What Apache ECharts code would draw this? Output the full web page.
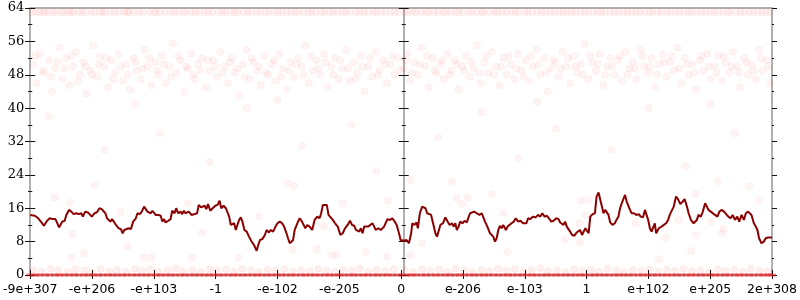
<!DOCTYPE html>
<html><head><meta charset="utf-8">
<script src="https://cdn.jsdelivr.net/npm/echarts@6/dist/echarts.min.js"></script>
<style>html,body{margin:0;padding:0;background:#fff}#c{width:800px;height:300px}</style>
</head><body><div id="c"></div>
<script>
// Tick labels
const xTickLabels = ['-9e+307','-e+206','-e+103','-1','-e-102','-e-205','0','e-206','e-103','1','e+102','e+205','2e+308'];
const yTicks = {min: 0, max: 64, step: 8};

// Dark red line (x position in tick units, y value)
const lineX = [0,0.075,0.129,0.182,0.22,0.273,0.316,0.369,0.407,0.439,0.466,0.493,0.519,0.557,0.584,0.627,0.664,0.702,0.744,0.787,0.825,0.851,0.889,0.932,0.959,0.996,1.039,1.076,1.119,1.157,1.183,1.216,1.242,1.269,1.296,1.323,1.36,1.387,1.43,1.467,1.494,1.521,1.547,1.59,1.628,1.665,1.708,1.735,1.772,1.805,1.842,1.869,1.896,1.922,1.949,1.976,2.003,2.029,
2.072,2.11,2.137,2.163,2.19,2.233,2.27,2.297,2.335,2.361,2.394,2.431,2.458,2.485,2.511,2.538,2.565,2.608,2.661,2.699,2.726,2.763,2.79,2.822,2.849,2.876,2.913,2.951,2.993,3.031,3.063,3.09,3.127,3.165,3.197,3.218,3.245,3.272,3.299,3.325,3.357,3.379,3.406,3.432,3.465,3.502,3.539,3.582,3.62,3.663,3.689,3.716,3.754,3.796,3.823,3.861,3.893,3.93,3.968,4.0,4.037,4.075,4.107,4.145,
4.171,4.198,4.225,4.252,4.278,4.305,4.332,4.359,4.396,4.428,4.45,4.482,4.519,4.546,4.562,4.6,4.643,4.68,4.707,4.734,4.76,4.798,4.825,4.857,4.894,4.932,4.975,5.017,5.055,5.092,5.135,5.173,5.205,5.242,5.269,5.296,5.323,5.349,5.376,5.403,5.43,5.467,5.499,5.537,5.564,5.59,5.628,5.671,5.724,5.778,5.821,5.858,5.896,5.928,5.965,5.992,6.046,6.088,6.126,6.163,
6.18,6.217,6.249,6.271,6.303,6.34,6.367,6.394,6.42,6.447,6.485,6.517,6.554,6.581,6.608,6.635,6.677,6.715,6.752,6.785,6.822,6.849,6.876,6.902,6.929,6.956,6.993,7.025,7.063,7.09,7.116,7.143,7.181,7.224,7.266,7.304,7.331,7.357,7.395,7.438,7.465,7.491,7.518,7.545,7.572,7.598,7.625,7.652,7.695,7.722,7.748,7.786,7.823,7.855,7.893,7.93,7.973,8.027,8.054,8.091,8.134,8.177,8.214,8.252,8.284,8.321,
8.359,8.391,8.429,8.466,8.509,8.546,8.573,8.6,8.627,8.653,8.68,8.712,8.734,8.766,8.803,8.841,8.867,8.894,8.926,8.953,8.98,9.001,9.033,9.06,9.098,9.135,9.162,9.194,9.221,9.248,9.274,9.301,9.328,9.355,9.382,9.419,9.457,9.483,9.515,9.542,9.569,9.596,9.622,9.649,9.676,9.703,9.73,9.767,9.805,9.847,9.874,9.912,9.944,9.971,9.997,10.024,10.051,10.078,10.104,10.126,10.169,10.212,10.249,10.287,10.319,10.345,10.372,10.41,
10.447,10.479,10.517,10.554,10.586,10.624,10.651,10.688,10.731,10.758,10.784,10.811,10.849,10.881,10.918,10.945,10.972,11.009,11.036,11.079,11.116,11.149,11.186,11.224,11.256,11.293,11.331,11.363,11.4,11.438,11.47,11.508,11.545,11.577,11.614,11.641,11.668,11.706,11.738,11.764,11.791,11.829,11.866,11.898,11.936,12.0];
const lineY = [14.4,14.2,13.6,12.6,11.8,13.0,13.6,13.4,13.4,12.4,11.4,11.2,12.8,13.0,14.4,15.6,15.2,14.6,14.8,14.6,14.8,14.0,15.2,15.0,14.8,14.0,14.8,15.0,16.0,15.8,16.2,14.8,13.6,14.0,12.8,13.4,12.6,12.0,11.2,11.0,10.0,10.8,10.4,11.2,11.0,12.8,13.6,14.8,14.6,15.2,16.4,16.0,15.2,15.6,14.8,15.4,15.2,14.4,
14.4,14.2,12.8,13.4,12.6,13.0,13.4,15.4,14.8,16.0,14.8,15.2,14.6,15.4,14.8,14.4,15.2,14.4,14.6,14.8,16.8,16.2,16.0,16.6,15.8,17.0,15.4,16.0,16.6,16.8,17.8,16.0,16.6,16.0,15.6,14.0,12.0,11.6,12.4,10.8,10.4,13.2,13.8,12.8,10.8,10.4,9.2,8.0,7.2,5.8,7.2,8.4,8.6,9.6,10.8,10.2,10.8,10.4,11.6,12.4,12.8,12.4,11.6,10.0,
8.8,7.6,7.4,8.4,10.8,11.0,12.8,13.6,12.8,12.6,11.2,12.0,11.6,11.8,10.8,13.2,14.0,13.6,14.8,16.8,17.0,16.8,14.4,14.8,13.2,12.4,11.6,9.6,10.0,11.2,12.0,13.0,12.0,11.8,10.8,11.2,10.4,11.2,10.0,11.6,12.0,11.6,12.0,12.4,11.6,10.8,11.2,10.8,11.6,13.4,13.2,13.6,12.8,12.0,10.0,8.4,8.2,8.4,7.6,10.0,
12.4,12.0,12.6,11.2,14.8,16.4,16.8,16.0,14.8,14.6,14.4,12.4,10.0,9.2,9.6,12.0,12.4,13.8,12.8,12.0,12.4,11.6,12.4,10.8,11.6,12.8,12.4,13.0,12.6,13.8,14.8,14.4,15.2,14.8,14.4,14.8,14.6,12.8,11.6,10.0,9.8,9.2,8.0,8.8,10.8,11.8,11.2,12.0,10.8,11.6,11.6,12.4,12.8,13.6,12.8,13.0,12.4,12.4,13.6,13.4,14.0,13.8,14.4,14.0,14.8,14.0,
14.2,13.6,12.8,13.0,13.6,13.4,12.6,13.0,12.0,12.8,11.6,12.0,10.4,9.6,9.4,10.2,9.8,10.8,9.6,10.0,11.2,10.8,10.0,14.0,14.6,14.8,18.8,19.8,19.6,16.4,14.8,15.6,15.2,14.4,12.6,12.0,12.4,13.2,14.0,16.0,17.2,16.8,19.2,17.6,17.2,15.6,14.8,14.8,14.4,14.6,14.0,13.8,15.6,15.2,13.2,11.2,10.4,10.8,12.4,10.0,11.2,11.6,12.0,12.4,13.2,14.4,14.0,16.4,
18.8,18.2,17.0,17.6,18.2,16.4,14.8,13.2,12.4,12.8,13.2,14.4,14.0,15.2,17.2,17.6,15.6,15.2,14.8,14.4,14.0,15.2,15.6,15.2,14.8,14.0,13.6,14.4,13.2,14.0,12.8,14.4,13.2,14.8,15.2,15.6,14.4,12.4,11.6,10.8,8.8,7.6,8.0,8.8,9.0,9.0];

// Faint scatter: row near the top (value 63)
const topRowX = [0.02,0.09,0.15,0.21,0.24,0.3,0.37,0.42,0.5,0.55,0.61,0.66,0.7,0.78,0.84,0.9,0.99,1.04,1.12,1.17,1.21,1.3,1.36,1.43,1.52,1.57,1.6,1.68,1.76,1.82,1.93,2.0,2.04,2.1,2.18,2.27,2.33,2.39,2.48,2.53,2.61,2.67,2.74,2.83,2.88,2.95,3.05,3.11,3.16,3.25,3.31,3.36,3.45,3.52,3.58,3.66,3.72,3.8,3.86,3.95,4.01,4.07,4.15,4.22,4.29,4.34,4.42,4.5,4.55,4.62,4.71,4.76,4.84,4.9,4.97,5.05,5.1,5.18,5.27,5.33,5.4,5.46,5.55,5.6,5.68,5.74,5.83,5.9,5.96,
6.06,6.11,6.19,6.24,6.33,6.4,6.45,6.53,6.6,6.68,6.72,6.8,6.88,6.93,7.0,7.09,7.14,7.22,7.3,7.34,7.43,7.51,7.56,7.63,7.7,7.78,7.85,7.9,8.0,8.05,8.12,8.2,8.27,8.33,8.41,8.47,8.56,8.62,8.69,8.76,8.82,8.9,8.97,9.03,9.11,9.18,9.24,9.3,9.39,9.45,9.52,9.6,9.66,9.73,9.8,9.86,9.94,10.02,10.07,10.15,10.21,10.3,10.36,10.44,10.5,10.57,10.65,10.7,10.78,10.86,10.92,11.0,11.06,11.13,11.21,11.28,11.33,11.42,11.49,11.55,11.63,11.7,11.77,11.84,11.9,11.97];

// Faint scatter: the cloud between about 42 and 56
const cloudPts = [[0.05,50.5],[0.1,46],[0.16,53],[0.22,48.5],[0.3,51.5],[0.35,44],[0.4,49.5],[0.47,54.5],[0.52,47],[0.58,52],[0.63,45.5],[0.69,50],[0.74,53.5],[0.8,48],[0.86,51],[0.91,43.5],[0.97,49],[1.02,55],[1.08,47.5],[1.13,52.5],[1.2,50],[1.26,45],[1.31,51.5],[1.37,48.5],[1.43,53],[1.5,46.5],[1.55,50.5],[1.61,44.5],[1.67,52],[1.72,49],[1.79,47],[1.85,54],[1.9,50],[1.96,45.5],[2.02,51],[2.08,48],[2.13,52.5],[2.19,46],[2.26,50],[2.31,55.5],[2.37,48.5],[2.43,51.5],[2.49,44],[2.55,49.5],[2.6,53],[2.66,47],[2.72,50.5],[2.78,52],[2.84,45],[2.9,49],[2.96,51.5],[3.02,47.5],[3.08,53.5],[3.14,50],[3.2,46],[3.26,52],[3.31,48.5],[3.38,43],[3.44,50.5],[3.5,54],[3.55,47],[3.61,51],[3.67,49],[3.73,45.5],[3.79,52.5],[3.85,48],[3.91,50.5],[3.97,46.5],[4.03,53],[4.09,49.5],[4.15,44.5],[4.21,51],[4.27,47.5],[4.33,52],[4.39,50],[4.45,55],[4.51,46],[4.57,49],[4.63,51.5],[4.69,48],[4.75,53],[4.81,45],[4.87,50],[4.93,52],[4.99,47],[5.05,49.5],[5.11,54],[5.17,46.5],[5.23,51],[5.29,48.5],[5.35,52.5],[5.41,44],[5.47,50],[5.53,47.5],[5.59,53.5],[5.65,49],[5.71,51.5],[5.77,46],[5.83,50.5],[5.89,48],[5.95,52],
[6.04,49.5],[6.1,53],[6.15,46.5],[6.21,51],[6.27,48],[6.33,54.5],[6.39,50],[6.45,45],[6.51,52],[6.57,48.5],[6.63,50.5],[6.69,47],[6.75,53],[6.81,49],[6.87,51.5],[6.93,44.5],[6.99,50],[7.05,52.5],[7.11,47.5],[7.17,49.5],[7.23,55],[7.29,46],[7.35,51],[7.41,48.5],[7.47,53.5],[7.53,50],[7.59,45.5],[7.65,52],[7.71,48],[7.77,50.5],[7.83,47],[7.89,53],[7.95,49],[8.01,51.5],[8.07,46.5],[8.13,50],[8.19,54],[8.25,48],[8.31,52],[8.37,44],[8.43,49.5],[8.49,51],[8.55,47.5],[8.61,53.5],[8.67,50],[8.73,46],[8.79,52.5],[8.85,48.5],[8.91,50.5],[8.97,55.5],[9.03,47],[9.09,51],[9.15,49],[9.21,53],[9.27,45.5],[9.33,50],[9.39,52],[9.45,48],[9.51,51.5],[9.57,46.5],[9.63,53.5],[9.69,49.5],[9.75,51],[9.81,47],[9.87,54],[9.93,50],[9.99,48.5],[10.05,52],[10.11,45],[10.17,50.5],[10.23,53],[10.29,47.5],[10.35,51],[10.41,49],[10.47,54.5],[10.53,46],[10.59,52],[10.65,48],[10.71,50.5],[10.77,44.5],[10.83,51.5],[10.89,49],[10.95,53],[11.01,47],[11.07,50],[11.13,52.5],[11.19,46.5],[11.25,51],[11.31,48.5],[11.37,53.5],[11.43,50],[11.49,45],[11.55,52],[11.61,48],[11.67,50.5],[11.73,47],[11.79,54],[11.85,49],[11.91,51.5],[11.97,46],
[0.08,52.5],[0.2,49],[0.33,47.5],[0.44,51],[0.55,49.5],[0.66,52.5],[0.77,46.5],[0.89,50],[1.0,48],[1.11,50.5],[1.23,52],[1.34,47],[1.46,50],[1.58,48],[1.7,51],[1.82,49.5],[1.93,52],[2.05,49],[2.16,50.5],[2.28,47.5],[2.4,52.5],[2.52,50],[2.63,48],[2.75,49],[2.87,51.5],[2.99,50],[3.11,48.5],[3.23,51],[3.35,49.5],[3.47,47.5],[3.58,52],[3.7,50],[3.82,48.5],[3.94,51.5],[4.06,47.5],[4.18,49],[4.3,50.5],[4.42,48],[4.54,52.5],[4.66,49.5],[4.78,51],[4.9,48],[5.02,51.5],[5.14,49.5],[5.26,47],[5.38,50],[5.5,52],[5.62,48],[5.74,50.5],[5.86,52.5],[5.98,49],
[6.07,51.5],[6.18,48.5],[6.3,50.5],[6.42,52.5],[6.54,49],[6.66,51.5],[6.78,48],[6.9,50.5],[7.02,49],[7.14,51],[7.26,48.5],[7.38,52.5],[7.5,48],[7.62,50],[7.74,52.5],[7.86,49.5],[7.98,47.5],[8.1,52.5],[8.22,50.5],[8.34,48.5],[8.46,51.5],[8.58,49.5],[8.7,52],[8.82,50],[8.94,48],[9.06,52.5],[9.18,50.5],[9.3,48],[9.42,50],[9.54,52.5],[9.66,48],[9.78,49.5],[9.9,52.5],[10.02,50],[10.14,48],[10.26,51],[10.38,52.5],[10.5,49.5],[10.62,50.5],[10.74,48.5],[10.86,52.5],[10.98,50],[11.1,48.5],[11.22,52.5],[11.34,50],[11.46,48.5],[11.58,51],[11.7,49],[11.82,52],[11.94,50]];

// Faint scatter: sparse points in the middle of the chart
const sparsePts = [[1.04,21.6],[0.4,18.6],[0.64,17.3],[1.46,15.2],[0.68,9.8],[0.87,5.2],[0.66,4.2],[1.57,6.8],[1.83,4.2],[1.96,4.2],[2.55,17.2],[3.7,14.0],[2.78,10.1],[2.62,4.2],[3.37,4.2],[4.17,22.0],[4.27,21.3],[5.06,17.2],[5.78,17.8],[4.75,11.7],[4.25,6.2],[4.64,6.2],[4.88,4.8],[4.96,4.8],[5.43,5.6],[5.77,4.4],[6.15,22.8],[6.82,22.5],[6.9,18.4],[7.07,18.6],[6.98,17.0],[7.47,19.4],[7.65,14.8],[6.34,7.6],[7.72,5.6],[6.15,4.8],[8.91,17.8],[9.03,18.0],[8.99,14.4],[9.79,12.5],[8.88,12.4],[8.66,8.6],[8.89,7.8],[10.28,9.0],[10.17,3.8],[11.13,22.5],[11.63,21.3],[10.76,19.4],[11.79,17.8],[10.49,13.2],[11.02,12.8],[11.21,11.0],[11.19,10.0],[10.77,9.6],[10.69,5.8],
[0.3,38],[1.2,30],[2.1,34],[2.9,27],[3.5,40],[4.4,31],[5.2,36],[5.6,25],[6.6,33],[7.3,39],[7.9,28],[8.5,35],[9.4,30],[10.0,40],[10.6,26],[11.4,34],[1.7,41],[4.0,42],[8.2,41.5],[11.0,41]];

// Faint scatter: dense rows at the bottom
const zeroRowX = [0.0,0.08,0.15,0.24,0.31,0.4,0.47,0.55,0.63,0.71,0.78,0.87,0.94,1.02,1.1,1.17,1.26,1.33,1.41,1.49,1.56,1.65,1.72,1.8,1.88,1.95,2.04,2.11,2.19,2.27,2.34,2.43,2.5,2.58,2.66,2.73,2.82,2.89,2.97,3.05,3.12,3.21,3.28,3.36,3.44,3.51,3.6,3.67,3.75,3.83,3.9,3.99,4.06,4.14,4.22,4.29,4.38,4.45,4.53,4.61,4.68,4.77,4.84,4.92,5.0,5.07,5.16,5.23,5.31,5.39,5.46,5.55,5.62,5.7,5.78,5.85,5.94,6.01,
6.09,6.17,6.24,6.33,6.4,6.48,6.56,6.63,6.72,6.79,6.87,6.95,7.02,7.11,7.18,7.26,7.34,7.41,7.5,7.57,7.65,7.73,7.8,7.89,7.96,8.04,8.12,8.19,8.28,8.35,8.43,8.51,8.58,8.67,8.74,8.82,8.9,8.97,9.06,9.13,9.21,9.29,9.36,9.45,9.52,9.6,9.68,9.75,9.84,9.91,9.99,10.07,10.14,10.23,10.3,10.38,10.46,10.53,10.62,10.69,10.77,10.85,10.92,11.01,11.08,11.16,11.24,11.31,11.4,11.47,11.55,11.63,11.7,11.79,11.86,11.94,12.0];
const lowRowPts = [[0.05,1.2],[0.19,0.8],[0.33,1.5],[0.45,1.0],[0.6,0.7],[0.73,1.3],[0.88,1.1],[1.0,0.6],[1.14,1.4],[1.28,0.9],[1.4,1.2],[1.55,0.7],[1.69,1.5],[1.81,1.0],[1.94,1.3],[2.07,0.8],[2.22,1.1],[2.35,1.6],[2.47,0.9],[2.62,1.2],[2.76,0.7],[2.9,1.4],[3.02,1.0],[3.17,1.3],[3.3,0.8],[3.43,1.5],[3.57,1.1],[3.7,0.7],[3.84,1.3],[3.97,1.0],[4.11,1.4],[4.25,0.8],[4.38,1.2],[4.52,0.9],[4.66,1.5],[4.79,1.1],[4.93,0.7],[5.06,1.3],[5.2,1.0],[5.33,1.6],[5.47,0.8],[5.6,1.2],[5.74,0.9],[5.88,1.4],
[6.06,1.1],[6.2,0.7],[6.34,1.4],[6.47,1.0],[6.61,1.3],[6.75,0.8],[6.88,1.5],[7.02,1.1],[7.15,0.7],[7.3,1.2],[7.43,0.9],[7.57,1.5],[7.7,1.0],[7.84,1.3],[7.98,0.8],[8.11,1.2],[8.25,1.6],[8.38,0.9],[8.52,1.1],[8.66,0.7],[8.8,1.4],[8.93,1.0],[9.07,1.3],[9.2,0.8],[9.34,1.5],[9.48,1.1],[9.61,0.7],[9.75,1.2],[9.89,1.0],[10.02,1.4],[10.16,0.8],[10.3,1.3],[10.43,1.0],[10.57,1.5],[10.71,0.9],[10.84,1.2],[10.98,0.7],[11.12,1.4],[11.25,1.0],[11.39,1.3],[11.53,0.8],[11.66,1.5],[11.8,1.1],[11.93,0.9]];

const faint = {color: 'rgba(255,0,0,0.055)', borderColor: 'rgba(255,0,0,0.05)', borderWidth: 1};
const chart = echarts.init(document.getElementById('c'), null, {renderer: 'canvas'});

function yAx(extra) {
  return Object.assign({
    type: 'value', min: yTicks.min, max: yTicks.max, interval: yTicks.step,
    splitLine: {show: false}, axisLabel: {show: false},
    axisLine: {show: false},
    axisTick: {show: true, length: 5, lineStyle: {color: '#111', width: 1}},
    minorTick: {show: true, splitNumber: 2, length: 2, lineStyle: {color: '#111', width: 1}},
    minorSplitLine: {show: false}
  }, extra);
}
const grayLine = {show: true, onZero: false, lineStyle: {color: '#b0b0b0', width: 2}};
const half = 373.5;

chart.setOption({
  animation: false,
  backgroundColor: '#fff',
  grid: {left: 27, right: 26, top: 8, bottom: 25},
  xAxis: [
    {type: 'value', min: 0, max: xTickLabels.length - 1, interval: 1, position: 'bottom',
     splitLine: {show: false}, axisLine: grayLine,
     axisTick: {show: true, length: 4, lineStyle: {color: '#111'}},
     axisLabel: {show: true, margin: 8, color: '#000', fontFamily: 'DejaVu Sans', fontSize: 12.5,
       formatter: v => xTickLabels[Math.round(v)]}},
    {type: 'value', min: 0, max: xTickLabels.length - 1, interval: 1, position: 'bottom',
     splitLine: {show: false}, axisLine: {show: false},
     axisTick: {show: true, inside: true, length: 5, lineStyle: {color: '#111'}},
     axisLabel: {show: false}},
    {type: 'value', min: 0, max: xTickLabels.length - 1, position: 'top',
     splitLine: {show: false}, axisLine: grayLine, axisTick: {show: false}, axisLabel: {show: false}}
  ],
  yAxis: [
    yAx({position: 'left', axisLine: grayLine,
      axisLabel: {show: true, margin: 6, color: '#000', fontFamily: 'DejaVu Serif', fontSize: 13}}),
    yAx({position: 'left', axisTick: {show: true, inside: true, length: 5, lineStyle: {color: '#111'}},
      minorTick: {show: true, splitNumber: 2, length: 2, lineStyle: {color: '#111'}}}),
    yAx({position: 'left', offset: -half, axisLine: grayLine}),
    yAx({position: 'left', offset: -half, axisTick: {show: true, inside: true, length: 5, lineStyle: {color: '#111'}},
      minorTick: {show: true, splitNumber: 2, length: 2, lineStyle: {color: '#111'}}}),
    yAx({position: 'right', axisLine: grayLine}),
    yAx({position: 'right', axisTick: {show: true, inside: true, length: 5, lineStyle: {color: '#111'}},
      minorTick: {show: true, splitNumber: 2, length: 2, lineStyle: {color: '#111'}}})
  ],
  series: [
    {type: 'scatter', symbol: 'circle', symbolSize: 7, itemStyle: faint, z: 3,
     data: topRowX.map(x => [x, 63])},
    {type: 'scatter', symbol: 'circle', symbolSize: 7, itemStyle: faint, z: 3, data: cloudPts},
    {type: 'scatter', symbol: 'circle', symbolSize: 7, itemStyle: faint, z: 3, data: sparsePts},
    {type: 'scatter', symbol: 'circle', symbolSize: 7, itemStyle: {color: 'rgba(255,0,0,0.08)', borderColor: 'rgba(255,0,0,0.06)', borderWidth: 1}, z: 3, data: lowRowPts},
    {type: 'scatter', symbol: 'rect', symbolSize: [8, 3], itemStyle: {color: 'rgba(228,20,20,0.6)'}, z: 4,
     data: zeroRowX.map(x => [x, 0])},
    {type: 'line', showSymbol: false, symbol: 'none', z: 5,
     lineStyle: {color: '#8b0000', width: 2},
     data: lineX.map((x, i) => [x, lineY[i]])}
  ]
});
</script>
</body></html>
